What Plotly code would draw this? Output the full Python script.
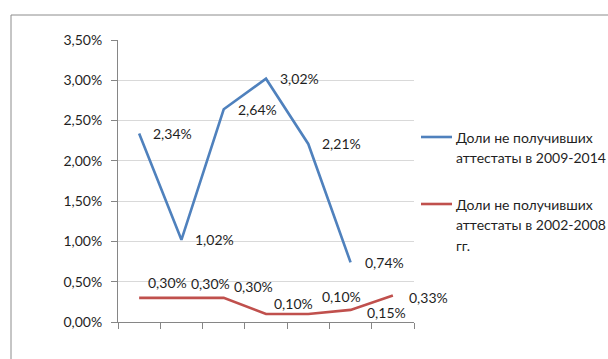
import plotly.graph_objects as go

# Period positions along the x axis (seven slots, unlabeled)
period_index = [1, 2, 3, 4, 5, 6, 7]

# Share of graduates without a certificate, %
share_2009_2014 = [2.34, 1.02, 2.64, 3.02, 2.21, 0.74]
share_2002_2008 = [0.30, 0.30, 0.30, 0.10, 0.10, 0.15, 0.33]

# Legend captions, one list entry per text line
legend_lines_2009_2014 = ["Доли не получивших", "аттестаты в 2009-2014"]
legend_lines_2002_2008 = ["Доли не получивших", "аттестаты в 2002-2008", "гг."]

y_tick_values = [0, 0.5, 1.0, 1.5, 2.0, 2.5, 3.0, 3.5]
y_tick_labels = ["0,00%", "0,50%", "1,00%", "1,50%", "2,00%", "2,50%", "3,00%", "3,50%"]

# Pixel offsets of the value labels relative to their points
blue_label_shift = [(12, 0)] * 6
red_label_shift = [(7, 15), (8, 14), (8, 11), (6, 10), (12, 17), (14, -3), (14, -2)]

BLUE = "#4F81BD"
RED = "#C0504D"
FONT = "Lato"
TEXT = "#1f1f1f"

W, H = 608, 359
ML, MR, MT, MB = 118, 194, 40, 37
PW, PH = W - ML - MR, H - MT - MB


def px_x(px):
    return (px - ML) / PW


def px_y(py):
    return (H - MB - py) / PH


def pct(v):
    return f"{v:.2f}".replace(".", ",") + "%"


fig = go.Figure()
fig.add_trace(go.Scatter(
    x=period_index[:len(share_2009_2014)], y=share_2009_2014, mode="lines",
    line=dict(color=BLUE, width=2.6), showlegend=False,
))
fig.add_trace(go.Scatter(
    x=period_index, y=share_2002_2008, mode="lines",
    line=dict(color=RED, width=2.6), showlegend=False,
))

annotations = []
for xs, ys, shifts in ((period_index, share_2009_2014, blue_label_shift),
                       (period_index, share_2002_2008, red_label_shift)):
    for xv, yv, (dx, dy) in zip(xs, ys, shifts):
        annotations.append(dict(
            x=xv, y=yv, xref="x", yref="y", text=pct(yv), showarrow=False,
            xanchor="left", yanchor="middle", xshift=dx, yshift=dy,
            font=dict(family=FONT, size=14, color=TEXT),
        ))

shapes = [
    # Outer chart frame
    dict(type="rect", xref="paper", yref="paper",
         x0=px_x(11), x1=px_x(620), y0=px_y(372), y1=px_y(15),
         line=dict(color="#8c8c8c", width=1), fillcolor="rgba(0,0,0,0)", layer="below"),
]

# Legend: sample line followed by caption lines
for color, lines, top in ((BLUE, legend_lines_2009_2014, 137),
                          (RED, legend_lines_2002_2008, 204)):
    shapes.append(dict(type="line", xref="paper", yref="paper",
                       x0=px_x(421), x1=px_x(452), y0=px_y(top), y1=px_y(top),
                       line=dict(color=color, width=2.6)))
    for i, t in enumerate(lines):
        annotations.append(dict(
            x=px_x(454), y=px_y(top + i * 20.5), xref="paper", yref="paper",
            text=t, showarrow=False, xanchor="left", yanchor="middle",
            font=dict(family=FONT, size=14, color=TEXT),
        ))

fig.update_layout(
    width=W, height=H,
    margin=dict(l=ML, r=MR, t=MT, b=MB, autoexpand=False),
    paper_bgcolor="white", plot_bgcolor="white",
    font=dict(family=FONT, size=14, color=TEXT),
    showlegend=False,
    annotations=annotations,
    shapes=shapes,
    xaxis=dict(range=[0.5, 7.5], tickvals=[i + 0.5 for i in range(8)],
               showticklabels=False, ticks="outside", ticklen=6, tickcolor="#868686",
               showgrid=False, showline=True, linecolor="#868686", zeroline=False,
               fixedrange=True),
    yaxis=dict(range=[0, 3.5], tickvals=y_tick_values, ticktext=y_tick_labels,
               ticks="outside", ticklen=6, tickcolor="#868686", ticklabelstandoff=6,
               showgrid=True, gridcolor="#d9d9d9", gridwidth=1,
               showline=True, linecolor="#868686", zeroline=False,
               tickfont=dict(family=FONT, size=14, color=TEXT), fixedrange=True),
)

fig.write_html("out.html")
